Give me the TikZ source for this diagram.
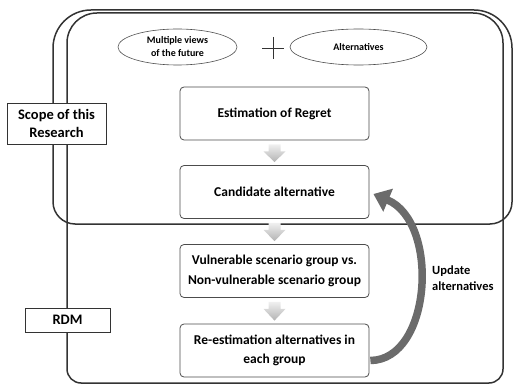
\documentclass[tikz,border=0pt]{standalone}
\usepackage{fontspec}
\setmainfont{Carlito}
\usetikzlibrary{arrows.meta,shapes.geometric,calc}
\begin{document}
\begin{tikzpicture}[x=1pt,y=-1pt,
  frame/.style={line width=1.5pt, draw=black!80},
  stepbox/.style={draw=black!70, line width=0.8pt, rounded corners=4pt, fill=white, minimum width=189pt, minimum height=53pt, align=center, font=\fontsize{13.5}{19.5}\selectfont\bfseries, text=black},
  oval/.style={ellipse, draw=black!70, line width=0.6pt, minimum width=119pt, minimum height=36pt, inner sep=0pt, align=center, font=\fontsize{10}{13}\selectfont\bfseries},
  tag/.style={draw=black!80, line width=0.7pt, fill=white, align=center, inner sep=0pt, font=\fontsize{14.5}{18}\selectfont\bfseries},
  downarrow/.style={top color=gray!12, bottom color=gray!60},
  bigarrow/.style={line width=7.5pt, draw=black!58, -{Triangle[length=16pt,width=24pt]}},
]
\useasboundingbox (0,0) rectangle (514,385);
% RDM frame
\draw[frame] (67,200) -- (67,43) .. controls (67,26.4) and (80.4,13) .. (97,13) -- (473,13) .. controls (489.6,13) and (503,26.4) .. (503,43) -- (503,369) .. controls (503,376.7) and (496.7,383) .. (489,383) -- (81,383) .. controls (73.3,383) and (67,376.7) .. (67,369) -- cycle;
% Scope frame
\draw[frame] (53,120) -- (53,48) .. controls (53,27) and (70,10) .. (91,10) -- (474,10) .. controls (495,10) and (512,27) .. (512,48) -- (512,202) .. controls (512,214) and (502,224) .. (490,224) -- (75,224) .. controls (63,224) and (53,214) .. (53,202) -- cycle;

\node[oval] (views) at (177.5,47) {Multiple views\\of the future};
\node[oval, minimum width=137pt] (alts) at (358.5,47) {Alternatives};
\coordinate (plus) at (273,48);
\draw[line width=0.8pt, black!80] ($(plus)+(0,-11)$) -- ($(plus)+(0,11)$) ($(plus)+(-11,0)$) -- ($(plus)+(11,0)$);

\node[stepbox] (est) at (274.5,113.5) {Estimation of Regret};
\node[stepbox] (cand) at (274.5,192) {Candidate alternative};
\node[stepbox] (vuln) at (274.5,271) {Vulnerable scenario group vs.\\Non-vulnerable scenario group};
\node[stepbox] (reest) at (274.5,350.5) {Re-estimation alternatives in\\each group};

\node[tag, minimum width=99pt, minimum height=41pt] (scope) at (56.5,123.5) {Scope of this\\Research};
\node[tag, minimum width=85pt, minimum height=24pt] (rdm) at (67.5,320) {RDM};

\foreach \a/\b in {est/cand, cand/vuln, vuln/reest} {
  \path[downarrow] ($(\a.south)+(-6,4)$) -- ($(\a.south)+(6,4)$) -- ($(\a.south)+(6,11)$) -- ($(\a.south)+(11,11)$) -- ($(\b.north)+(0,-3)$) -- ($(\a.south)+(-11,11)$) -- ($(\a.south)+(-6,11)$) -- cycle;
}

\draw[bigarrow] ($(reest.east)+(1,10)$) .. controls (432,360) and (440,222) .. ($(cand.east)+(4,2)$);

\node[anchor=west, align=left, inner sep=0pt, font=\fontsize{12.5}{16}\selectfont\bfseries] (upd) at (432,278) {Update\\alternatives};
\end{tikzpicture}
\end{document}
